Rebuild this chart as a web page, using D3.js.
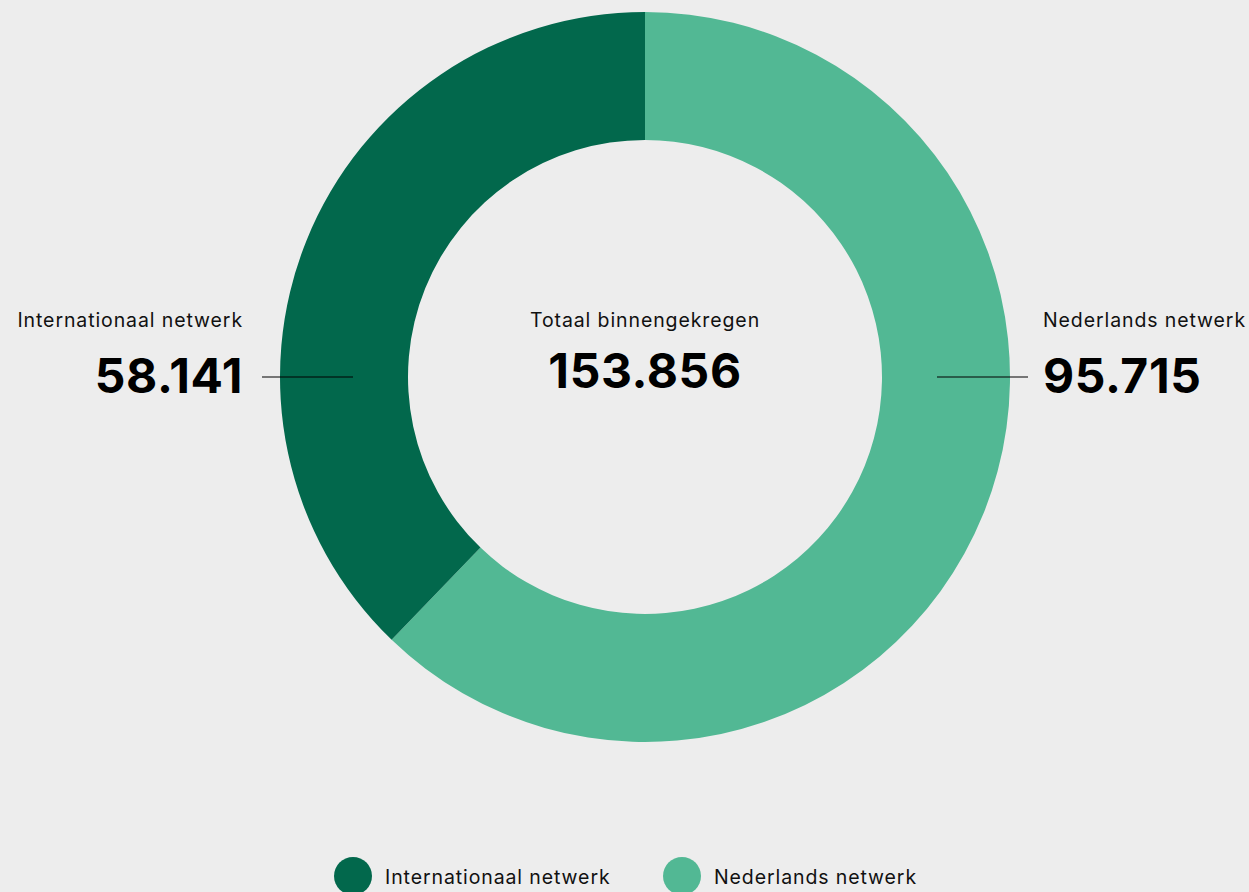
<!DOCTYPE html>
<html>
<head>
<meta charset="utf-8">
<script src="https://cdn.jsdelivr.net/npm/d3@7"></script>
<style>
  html, body { margin: 0; padding: 0; background: #ededed; }
  svg { display: block; font-family: Inter, "Noto Sans", sans-serif; }
</style>
</head>
<body>
<script>
// data
var categories = ["Nederlands netwerk", "Internationaal netwerk"];
var values = [95715, 58141];
var colors = ["#52b894", "#02684c"];
var legendOrder = ["Internationaal netwerk", "Nederlands netwerk"];
var centerTitle = "Totaal binnengekregen";

var W = 1249, H = 892;
var cx = 645, cy = 377, rOuter = 365, rInner = 237;

var fmt = function (v) { return d3.format(",")(v).replace(/,/g, "."); };

var svg = d3.select("body").append("svg").attr("width", W).attr("height", H);
svg.append("rect").attr("width", W).attr("height", H).attr("fill", "#ededed");

var color = d3.scaleOrdinal().domain(categories).range(colors);

var pie = d3.pie().sort(null).value(function (d) { return d.v; });
var data = categories.map(function (c, i) { return { name: c, v: values[i] }; });
var arcs = pie(data);
var arc = d3.arc().innerRadius(rInner).outerRadius(rOuter);

var g = svg.append("g").attr("transform", "translate(" + cx + "," + cy + ")");
g.selectAll("path").data(arcs).enter().append("path")
    .attr("d", arc)
    .attr("fill", function (d) { return color(d.data.name); });

// center text
g.append("text").attr("text-anchor", "middle").attr("y", -50)
    .attr("font-size", 19.5).attr("letter-spacing", 0.9).attr("fill", "#111").text(centerTitle);
g.append("text").attr("text-anchor", "middle").attr("y", 11)
    .attr("font-size", 48).attr("font-weight", 700).attr("letter-spacing", 0.6).attr("fill", "#000")
    .text(fmt(d3.sum(values)));

// side labels: right = Nederlands, left = Internationaal
var side = [
    { name: categories[0], v: values[0], dir: 1 },
    { name: categories[1], v: values[1], dir: -1 }
];
var lab = g.selectAll("g.lab").data(side).enter().append("g").attr("class", "lab");
lab.append("line")
    .attr("x1", function (d) { return d.dir * 292; })
    .attr("x2", function (d) { return d.dir * 383; })
    .attr("y1", 0).attr("y2", 0)
    .attr("stroke", "#000").attr("stroke-width", 1.2);
lab.append("text")
    .attr("x", function (d) { return d.dir > 0 ? 398 : -402; })
    .attr("y", -50)
    .attr("text-anchor", function (d) { return d.dir > 0 ? "start" : "end"; })
    .attr("font-size", 19.5).attr("letter-spacing", 0.9).attr("fill", "#111")
    .text(function (d) { return d.name; });
lab.append("text")
    .attr("x", function (d) { return d.dir > 0 ? 398 : -402; })
    .attr("y", 16)
    .attr("text-anchor", function (d) { return d.dir > 0 ? "start" : "end"; })
    .attr("font-size", 48).attr("font-weight", 700).attr("letter-spacing", 0.6).attr("fill", "#000")
    .text(function (d) { return fmt(d.v); });

// legend
var legX = d3.scalePoint().domain(legendOrder).range([353, 682]);
var leg = svg.selectAll("g.leg").data(legendOrder).enter().append("g").attr("class", "leg")
    .attr("transform", function (d) { return "translate(" + legX(d) + ",876)"; });
leg.append("circle").attr("r", 19).attr("fill", function (d) { return color(d); });
leg.append("text").attr("x", 32).attr("y", 8).attr("font-size", 19.5).attr("letter-spacing", 0.9)
    .attr("fill", "#111")
    .text(function (d) { return d; });
</script>
</body>
</html>
